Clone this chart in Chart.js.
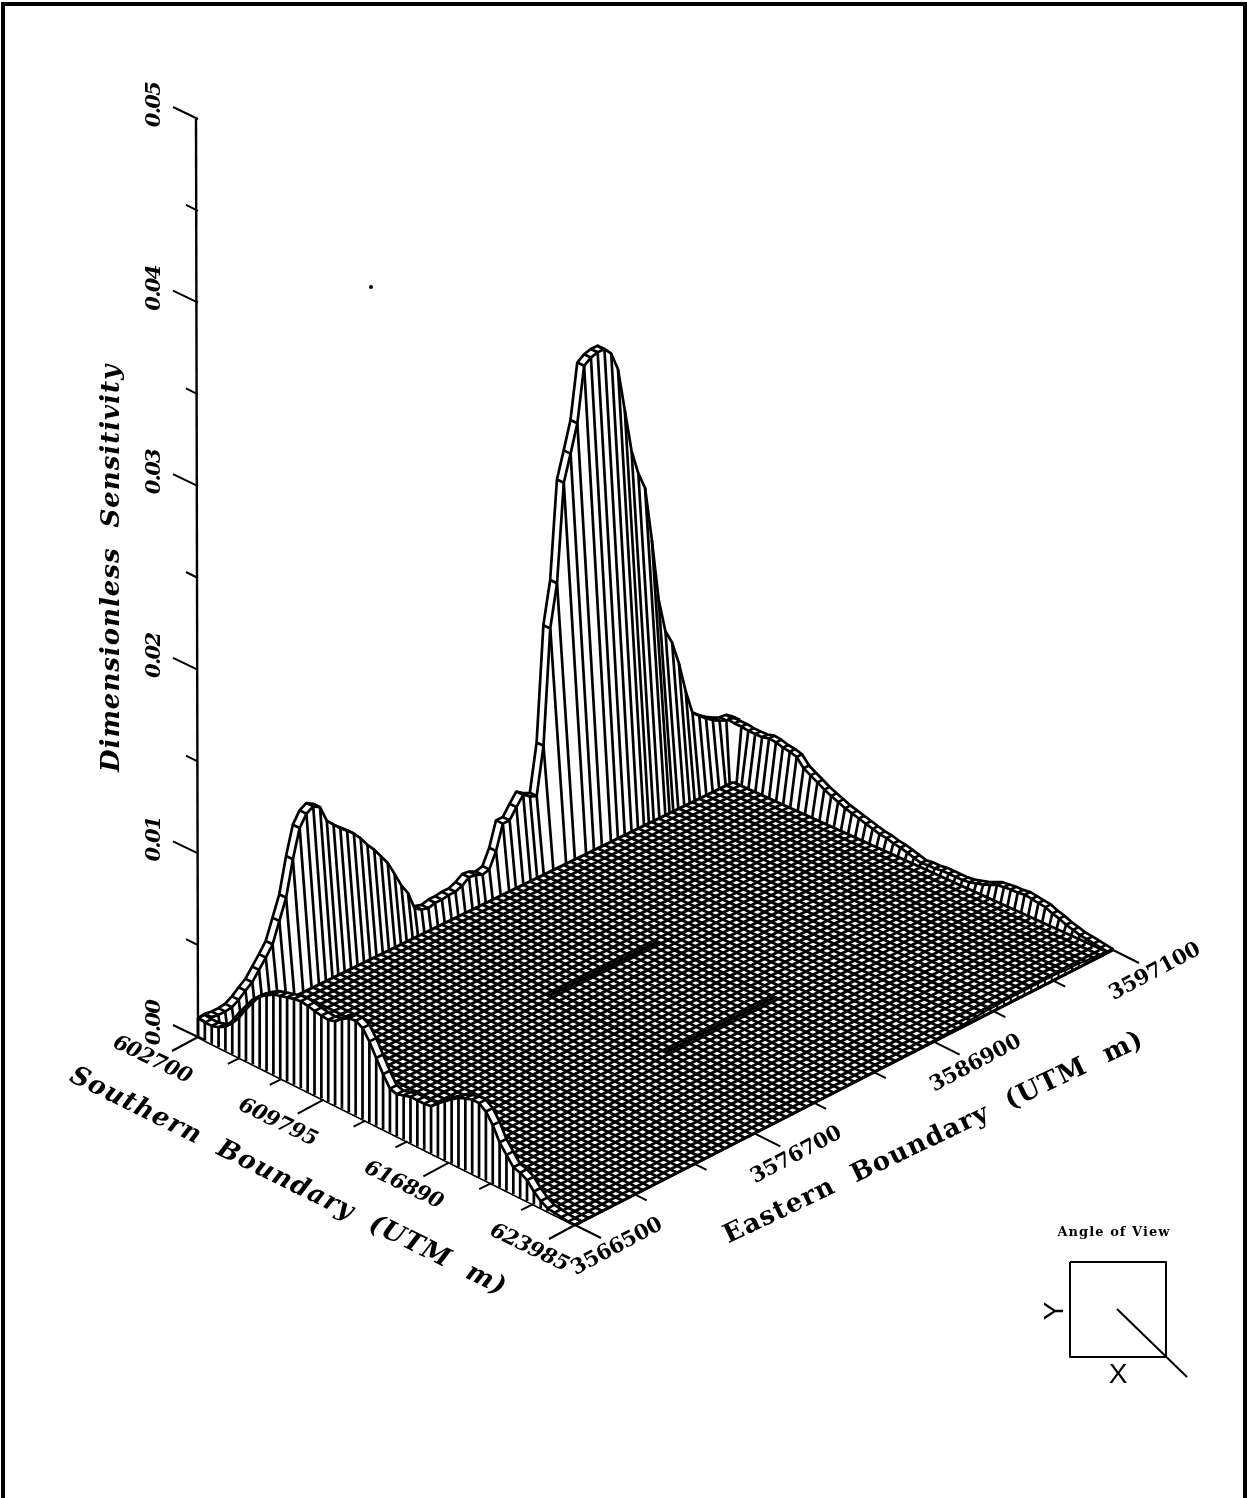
<!DOCTYPE html>
<html>
<head>
<meta charset="utf-8">
<title>Dimensionless Sensitivity</title>
<script src="https://cdn.jsdelivr.net/npm/chart.js@4/dist/chart.umd.min.js"></script>
<style>
    html, body { margin: 0; padding: 0; background: #fff; }
    #page { position: relative; width: 1247px; height: 1498px; overflow: hidden; }
    #surface { position: absolute; left: 0; top: 0; }
    #frame { position: absolute; left: 1px; top: 2px; width: 1238px; height: 1500px;
             border: 4px solid #000; pointer-events: none; }
</style>
</head>
<body>
<div id="page">
    <canvas id="surface" width="1247" height="1498"></canvas>
    <div id="frame"></div>
</div>
<script>
// Sensitivity along the boundary rows of the grid
const westValues = [
    .00103,.00109,.00103,.00103,.00109,.00131,.00163,.00191,.0024,.00289,
    .00343,.00452,.00561,.00752,.00904,.00964,.00986,.00964,.00872,.00833,
    .00795,.00763,.0073,.00686,.00632,.00588,.00534,.00479,.00403,.00321,
    .00261,.00158,.00136,.00125,.00136,.00136,.00142,.00142,.00158,.00185,
    .0018,.00163,.00174,.00256,.00387,.00387,.00441,.0049,.00463,.00447,
    .00703,.01324,.01552,.02081,.02222,.02369,.02664,.02691,.02702,.02702,
    .02658,.02555,.02315,.02075,.01934,.01836,.01536,.01193,.01002,.00921,
    .0079,.00621,.00485,.00452,.00419,.00392,.0037,.00354,.00349,.00321
];
const southValues = [
    .00103,.00098,.00098,.00109,.00131,.0018,.00245,.003,.00354,.00387,
    .00414,.00436,.00447,.00458,.00468,.00474,.00468,.00458,.00452,.00447,
    .00458,.0049,.00512,.00517,.00496,.00441,.0037,.003,.0024,.00229,
    .0024,.00251,.00251,.00251,.00256,.00289,.00321,.00349,.00376,.00392,
    .00403,.00403,.00376,.00321,.00245,.00196,.00147,.00136,.00114,.00071,
    .00038,.00016,.00011,.00005,0,0
];
const northValues = [
    .00321,.00316,.00316,.0031,.0031,.0031,.00321,.00316,.00305,.003,
    .00289,.00245,.00223,.00202,.0018,.00163,.00147,.00131,.0012,.00109,
    .00098,.00087,.00076,.00071,.0006,.00054,.00044,.00033,.00022,.00027,
    .00027,.00033,.00033,.00033,.00033,.00038,.00049,.0006,.00076,.00093,
    .00098,.00103,.00103,.00109,.00103,.00098,.00093,.00076,.00065,.00049,
    .00038,.00027,.00022,.00016,.00011,.00005
];
const eastValues = [
    0,0,0,0,0,0,0,0,0,0,
    0,0,0,0,0,0,0,0,0,0,
    0,0,0,0,0,0,0,0,0,0,
    0,0,0,0,0,0,0,0,0,0,
    .00003,.00003,.00003,.00003,.00003,.00003,.00003,.00003,.00005,.00005,
    .00005,.00005,.00005,.00008,.00008,.00011,.00011,.00011,.00016,.00016,
    .00022,.00022,.00022,.00027,.00027,.00027,.00027,.00027,.00027,.00027,
    .00027,.00027,.00022,.00022,.00022,.00016,.00016,.00011,.00011,.00005
];

const zTicks = [0, .005, .01, .015, .02, .025, .03, .035, .04, .045, .05];
const zTickLabels = ['0.00', '', '0.01', '', '0.02', '', '0.03', '', '0.04', '', '0.05'];
const southTickLabels = ['602700', '', '', '609795', '', '', '616890', '', '', '623985'];
const eastTickLabels = ['3566500', '', '', '3576700', '', '', '3586900', '', '', '3597100'];

// source box on the floor, in grid cells
const boxSouth = [19.5, 36.5];
const boxEast = [32, 48];

// corners of the floor on the page, the rest is projected from them
const CELLS_SOUTH = 55, CELLS_EAST = 79;
const cornerA = [198, 1037], cornerB = [575, 1225], cornerC = [1113, 950], cornerD = [733, 775.6];
const Z_TOP_Y = 119, Z_MAX = 0.05;
const zScale = (cornerA[1] - Z_TOP_Y) / Z_MAX;

function project(i, j, z) {
    const u = i / CELLS_SOUTH, v = j / CELLS_EAST;
    const x = (1 - u) * (1 - v) * cornerA[0] + u * (1 - v) * cornerB[0] + u * v * cornerC[0] + (1 - u) * v * cornerD[0];
    const y = (1 - u) * (1 - v) * cornerA[1] + u * (1 - v) * cornerB[1] + u * v * cornerC[1] + (1 - u) * v * cornerD[1];
    return { x: x, y: y - (z || 0) * zScale };
}

// how far along the wall a rib lands on the floor, taller ribs lean more
function lean(z) {
    return 4 * Math.pow(z / 0.027, 0.75);
}

// many short lines in one dataset, split with gaps
function segments(pairs) {
    const out = [];
    pairs.forEach(p => {
        out.push(p[0], p[1], { x: NaN, y: NaN });
    });
    return out;
}

const datasets = [];
function add(data, width, extra) {
    datasets.push(Object.assign({
        data: data, showLine: true, pointRadius: 0, borderColor: '#000', borderWidth: width,
        tension: 0, fill: false, borderJoinStyle: 'round', borderCapStyle: 'butt'
    }, extra || {}));
    return datasets.length - 1;
}

const RIB = 2.7, MESH = 2.9, EDGE = 3;

// west wall, the high ridge behind the floor
const westOuter = westValues.map((z, j) => project(0, j, z));
const westInner = westValues.map((z, j) => project(1, j, z));
add(westOuter, RIB);
add(segments(westValues.map((z, j) => [project(0, j, z), project(1, j, z)])), RIB);
const westFoot = add([project(1, 0, 0), project(1, 78, 0)], 0);
add(westInner, RIB, { fill: { target: westFoot }, backgroundColor: '#fff' });
add(segments(westValues.slice(0, 78).map((z, j) => [project(1, j, z), project(1, Math.min(j + lean(z), 77.5), 0)])), RIB);

// north wall, running down to the right
const NORTH_INNER = 78.2;
add(northValues.map((z, i) => project(i, 79, z)), RIB);
add(northValues.map((z, i) => project(i, NORTH_INNER, z)), RIB);
add(segments(northValues.map((z, i) => [project(i, 79, z), project(i, NORTH_INNER, z)])), RIB);
add(segments(northValues.map((z, i) => [project(i, NORTH_INNER, z), project(Math.max(i - lean(z), 1.5), 78, 0)]).slice(2)), RIB);

// floor mesh
const meshI = [], meshJ = [];
for (let i = 1; i <= CELLS_SOUTH; i++) meshI.push([project(i, 0, 0), project(i, 78, 0)]);
for (let j = 0; j <= 78; j++) meshJ.push([project(1, j, 0), project(CELLS_SOUTH, j, eastValues[j])]);
add(segments(meshI), MESH);
add(segments(meshJ), MESH);

// source box
add(segments([
    [project(boxSouth[0], boxEast[0]), project(boxSouth[1], boxEast[0])],
    [project(boxSouth[0], boxEast[1]), project(boxSouth[1], boxEast[1])]
]), 3);
add(segments([
    [project(boxSouth[0], boxEast[0]), project(boxSouth[0], boxEast[1])],
    [project(boxSouth[1], boxEast[0]), project(boxSouth[1], boxEast[1])]
]), 3.3);

// east edge skirt, barely off the floor
add(eastValues.map((z, j) => project(CELLS_SOUTH, j, z)), 2);
add(segments(eastValues.map((z, j) => [project(CELLS_SOUTH, j, z), project(CELLS_SOUTH, j, 0)])), 2);

// south skirt, hides whatever stands behind it
const southBase = add([project(0, 0, 0), project(CELLS_SOUTH, 0, 0)], EDGE);
add(southValues.map((z, i) => project(i, 1, z)), RIB, { fill: { target: southBase }, backgroundColor: '#fff' });
add(southValues.map((z, i) => project(i, 0, z)), RIB);
add(segments(southValues.map((z, i) => [project(i, 0, z), project(i, 1, z)])), RIB);
add(segments(southValues.map((z, i) => [project(i, 0, 0), project(i, 0, z)])), RIB);

// axes
add([project(0, 0, 0), { x: 196, y: Z_TOP_Y }], 2.4);
add([project(CELLS_SOUTH, 0, 0), project(CELLS_SOUTH, CELLS_EAST, 0)], EDGE);

function tickEnd(pt, dx, dy) {
    return { x: pt.x + dx, y: pt.y + dy };
}
add(segments(zTicks.map((z, n) => {
    const p = project(0, 0, z);
    return zTickLabels[n] ? [p, tickEnd(p, -25, -12)] : [p, tickEnd(p, -12, -6)];
})), 2);
add(segments(southTickLabels.map((label, n) => {
    const p = project(n * CELLS_SOUTH / 9, 0, 0);
    return label ? [p, tickEnd(p, -26, 14)] : [p, tickEnd(p, -12, 6)];
})), 2);
add(segments(eastTickLabels.map((label, n) => {
    const p = project(CELLS_SOUTH, n * CELLS_EAST / 9, 0);
    return label ? [p, tickEnd(p, 26, 13)] : [p, tickEnd(p, 12, 6)];
})), 2);

// angle of view key
add([{ x: 1070, y: 1262 }, { x: 1166, y: 1262 }, { x: 1166, y: 1357 }, { x: 1070, y: 1357 }, { x: 1070, y: 1262 }], 2);
add([{ x: 1117, y: 1309 }, { x: 1187, y: 1377 }], 2);

// speck on the scan
add([{ x: 371, y: 287 }], 0, { showLine: false, pointRadius: 2, pointBackgroundColor: '#000' });

datasets.forEach((d, n) => { d.order = datasets.length - n; });

function putText(ctx, text, x, y, angle, font, length) {
    ctx.save();
    ctx.translate(x, y);
    ctx.rotate(angle * Math.PI / 180);
    ctx.font = font;
    ctx.fillStyle = '#000';
    ctx.textAlign = 'center';
    ctx.textBaseline = 'middle';
    ctx.letterSpacing = '0px';
    if (length) {
        const spare = length - ctx.measureText(text).width;
        ctx.letterSpacing = (spare / (text.length - 1)) + 'px';
    }
    ctx.fillText(text, 0, 0);
    ctx.restore();
}

const SERIF = '"DejaVu Serif", serif';
const labelsPlugin = {
    id: 'labels3d',
    afterDatasetsDraw(chart) {
        const ctx = chart.ctx;
        const sx = chart.scales.x, sy = chart.scales.y;
        const at = (p, dx, dy) => [sx.getPixelForValue(p.x) + dx, sy.getPixelForValue(p.y) + dy];

        zTickLabels.forEach((label, n) => {
            if (!label) return;
            const q = at(project(0, 0, zTicks[n]), -43, -14);
            putText(ctx, label, q[0], q[1], -90, 'italic bold 21px ' + SERIF, 46);
        });
        southTickLabels.forEach((label, n) => {
            if (!label) return;
            const q = at(project(n * CELLS_SOUTH / 9, 0, 0), -46, 23);
            putText(ctx, label, q[0], q[1], 26, 'italic bold 21px ' + SERIF, 85);
        });
        eastTickLabels.forEach((label, n) => {
            if (!label) return;
            const q = at(project(CELLS_SOUTH, n * CELLS_EAST / 9, 0), 42, 22);
            putText(ctx, label, q[0], q[1], -28, 'bold 21px ' + SERIF, 100);
        });

        putText(ctx, 'Dimensionless  Sensitivity', 112, 568, -90, 'italic bold 26px ' + SERIF, 407);
        putText(ctx, 'Southern  Boundary  (UTM  m)', 288, 1182, 26.4, 'italic bold 26px ' + SERIF, 483);
        putText(ctx, 'Eastern  Boundary  (UTM  m)', 934, 1138, -25.5, 'bold 26px ' + SERIF, 461);

        putText(ctx, 'Angle of View', 1114, 1233, 0, 'bold 13px ' + SERIF, 112);
        putText(ctx, 'Y', 1055, 1311, -90, '28px "Liberation Sans", sans-serif');
        putText(ctx, 'X', 1118, 1375, 0, '28px "Liberation Sans", sans-serif');
    }
};

new Chart(document.getElementById('surface'), {
    type: 'scatter',
    data: { datasets: datasets },
    options: {
        responsive: false,
        animation: false,
        events: [],
        layout: { padding: 0, autoPadding: false },
        plugins: { legend: { display: false }, tooltip: { enabled: false } },
        scales: {
            x: { type: 'linear', display: false, min: 0, max: 1247 },
            y: { type: 'linear', display: false, min: 0, max: 1498, reverse: true }
        }
    },
    plugins: [labelsPlugin]
});
</script>
</body>
</html>
